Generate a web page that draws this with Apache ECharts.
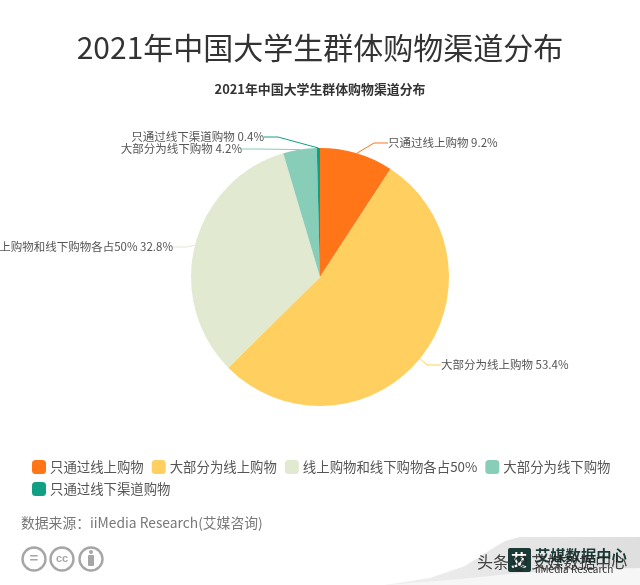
<!DOCTYPE html>
<html><head><meta charset="utf-8">
<style>html,body{margin:0;padding:0;background:#fff}#c{width:640px;height:585px}</style>
<script src="https://cdn.jsdelivr.net/npm/echarts@6/dist/echarts.min.js"></script>
</head><body><div id="c"></div>
<script>
const pageTitle = '2021年中国大学生群体购物渠道分布';
const chartTitle = '2021年中国大学生群体购物渠道分布';
const categories = ['只通过线上购物','大部分为线上购物','线上购物和线下购物各占50%','大部分为线下购物','只通过线下渠道购物'];
const values = [9.2,53.4,32.8,4.2,0.4];
const colors = ['#FF7518','#FFCF60','#E1E9D1','#88CDB8','#12A085'];
const FF = '"Microsoft YaHei","Noto Sans CJK SC",sans-serif';
const chart = echarts.init(document.getElementById('c'),null,{renderer:'canvas'});
const iconStyle = {fill:'none',stroke:'#a6a6a6',lineWidth:2.4};
chart.setOption({
  animation:false,
  backgroundColor:'#fff',
  color:colors,
  title:{text:chartTitle,left:'center',top:78,
    textStyle:{fontFamily:FF,fontSize:12.9,fontWeight:'bold',color:'#333'}},
  legend:{left:27,top:455,width:600,itemWidth:14,itemHeight:14,itemGap:8,
    icon:'roundRect',
    textStyle:{fontFamily:FF,fontSize:13.4,color:'#555',padding:[0,0,0,-1]},
    data:categories},
  series:[{
    type:'pie',center:[320,277],radius:[0,129],startAngle:90,clockwise:true,
    avoidLabelOverlap:false,
    data:categories.map((n,i)=>({name:n,value:values[i]})),
    label:{formatter:p=>p.name+' '+p.value+'%',fontFamily:FF,fontSize:11.5,color:'#555'},
    labelLine:{length:10,length2:14,lineStyle:{width:1}},
    labelLayout:function(p){
      const pos=[{x:388,y:143,align:'left'},{x:441,y:365,align:'left'},{x:173,y:247,align:'right'},{x:242,y:149,align:'right'},{x:264,y:137,align:'right'}][p.dataIndex];
      return {x:pos.x,y:pos.y,align:pos.align,verticalAlign:'middle'};
    }
  }],
  graphic:[
    {type:'text',x:320,y:48,style:{text:pageTitle,font:'30px '+FF,fill:'#333',align:'center',verticalAlign:'middle'}},
    {type:'text',x:21,y:523,style:{text:'数据来源：iiMedia Research(艾媒咨询)',font:'13.8px '+FF,fill:'#777',verticalAlign:'middle'}},
    {type:'circle',shape:{cx:34,cy:559,r:11.5},style:iconStyle},
    {type:'circle',shape:{cx:62,cy:559,r:11.5},style:iconStyle},
    {type:'circle',shape:{cx:91,cy:559,r:11.5},style:iconStyle},
    {type:'text',x:34,y:559,style:{text:'=',font:'bold 15px sans-serif',fill:'#a6a6a6',align:'center',verticalAlign:'middle'}},
    {type:'text',x:62,y:559,style:{text:'cc',font:'bold 11px sans-serif',fill:'#a6a6a6',align:'center',verticalAlign:'middle'}},
    {type:'circle',shape:{cx:91,cy:552,r:2},style:{fill:'#a6a6a6'}},
    {type:'rect',shape:{x:88,y:555,width:6,height:11,r:1},style:{fill:'#a6a6a6'}},
    {type:'polygon',shape:{points:[[385,585],[430,578],[465,566],[490,550],[505,541],[520,537],[640,537],[640,585]]},
      style:{fill:new echarts.graphic.LinearGradient(0,0,1,1,[{offset:0,color:'#f0f0f0'},{offset:0.6,color:'#e4e4e4'},{offset:1,color:'#dedede'}])}},
    {type:'polygon',shape:{points:[[385,585],[450,580],[520,573],[580,569],[640,568],[640,585]]},style:{fill:'#f6f6f6'}},
    {type:'rect',shape:{x:508,y:548,width:23,height:24,r:2},style:{fill:'#1b3a36'}},
    {type:'text',x:519,y:560,style:{text:'艾',font:'bold 16px '+FF,fill:'#fff',align:'center',verticalAlign:'middle'}},
    {type:'text',x:535,y:555,style:{text:'艾媒数据中心',font:'bold 15.3px '+FF,fill:'#1b3a36',verticalAlign:'middle'}},
    {type:'text',x:535,y:569,style:{text:'iiMedia Research',font:'10px '+FF,fill:'#333',verticalAlign:'middle'}},
    {type:'text',x:477,y:562,style:{text:'头条 @ 艾媒数据中心',font:'16px '+FF,fill:'#222',opacity:.85,verticalAlign:'middle'}}
  ]
});
</script></body></html>
